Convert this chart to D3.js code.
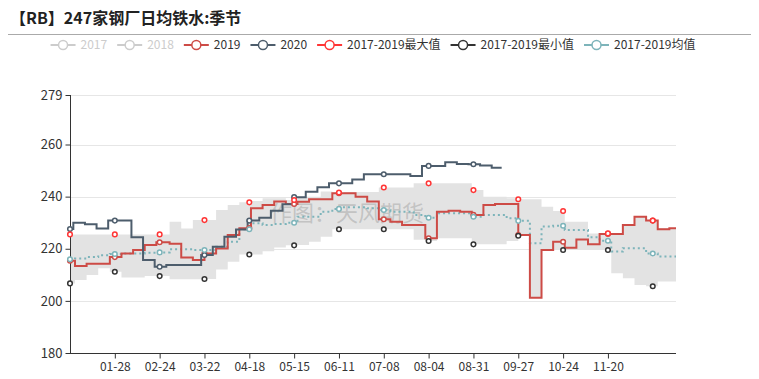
<!DOCTYPE html>
<html><head><meta charset="utf-8">
<script src="https://cdn.jsdelivr.net/npm/d3@7"></script>
<style>
body{margin:0;background:#fff;}
svg{display:block;font-family:"Noto Sans CJK SC","Microsoft YaHei",sans-serif;}
</style>
</head><body>
<svg id="chart" width="759" height="379"></svg>
<script>
// ---------------- data ----------------
const titleText = "【RB】247家钢厂日均铁水:季节";
const watermarkText = "作图：天风期货";
const legendNames = ["2017","2018","2019","2020","2017-2019最大值","2017-2019最小值","2017-2019均值"];
const legendActive = [false,false,true,true,true,true,true];
const tickLabels = ["01-28","02-24","03-22","04-18","05-15","06-11","07-08","08-04","08-31","09-27","10-24","11-20"];
const yTicks = [180,200,220,240,260,279];
const yMin = 180, yMax = 279;

// categories: every day MM-DD of the seasonal (leap) year
const fmt = d3.timeFormat("%m-%d");
const categories = d3.timeDay.range(new Date(2020,0,1), new Date(2021,0,1)).map(fmt);

// weekly report dates (first point = 01-01 carry-over)
const dates2019 = ["01-01"].concat(d3.timeFriday.range(new Date(2019,0,1), new Date(2020,0,1)).map(fmt));
const dates2020 = ["01-01"].concat(d3.timeFriday.range(new Date(2020,0,1), new Date(2020,8,12)).map(fmt));
const end2020 = "09-17";

const values2019 = [215.4,213.4,214.2,214.2,216.8,218.2,219.5,221.4,222.5,221.9,216.6,215.7,218.2,220.1,225.3,227.9,235.5,236.8,238.1,237.2,238.0,239.0,239.0,241.3,241.3,240.0,238.1,231.3,230.4,229.1,229.1,224.0,234.2,234.6,234.2,233.0,236.8,237.2,237.2,225.3,201.2,219.5,222.7,220.4,223.6,221.7,225.7,225.7,229.1,232.3,230.8,227.5,227.9];
const values2020 = [227.6,230.0,229.4,227.8,230.8,230.8,224.4,215.7,213.1,213.8,213.8,213.8,217.6,220.8,224.6,227.4,230.8,231.9,234.6,237.1,239.8,241.9,243.6,245.1,245.1,246.6,248.6,248.6,248.6,248.6,247.9,251.8,251.8,253.2,252.5,252.4,251.9,251.1];
const valuesMax = [225.5,225.5,225.5,225.5,225.5,225.5,225.5,225.5,225.5,230.4,227.8,231.0,231.0,234.9,236.8,237.8,238.3,239.4,239.4,238.7,240.0,240.0,242.0,241.6,241.8,241.8,241.8,243.5,243.5,243.5,245.1,245.1,245.1,245.1,245.1,242.5,240.0,240.0,239.4,239.0,239.0,236.1,234.5,230.4,230.4,225.9,225.9,225.9,229.1,232.3,230.8,227.9,227.9];
const valuesMin = [206.7,208.0,209.9,212.5,211.2,209.0,209.0,209.5,209.5,208.3,208.3,208.3,208.4,212.0,215.0,217.8,217.8,219.0,220.5,221.3,221.4,222.7,224.6,227.5,227.5,227.5,227.5,227.5,227.5,227.5,223.5,223.0,224.0,224.0,224.0,221.7,221.7,221.7,223.0,225.0,201.2,219.5,219.5,219.5,219.5,219.5,219.5,210.6,208.7,206.1,205.6,207.4,207.4];
const valuesMean = [216.0,216.3,216.8,217.5,218.0,218.2,218.2,218.5,218.6,219.8,219.8,219.5,219.5,220.8,222.7,227.5,229.8,229.1,229.5,230.0,232.3,232.3,234.2,235.3,235.9,235.9,235.5,234.9,234.2,234.2,233.0,231.9,233.6,233.6,233.6,232.3,233.0,233.0,231.7,230.7,222.1,228.5,228.8,227.2,227.2,224.4,223.1,218.9,220.2,220.2,218.2,217.0,217.0];

// ---------------- styles ----------------
const C = {
  y2019: "#cd4b46", y2020: "#4d5d6c", max: "#ff3535", min: "#333333", mean: "#7db4ba",
  band: "#e3e3e3", axis: "#333", grid: "#e6e6e6", text: "#333", off: "#cccccc"
};
const W = 759, H = 379;
const plot = {left: 70, right: 676, top: 95, bottom: 353};

const svg = d3.select("#chart");

const x = d3.scaleLinear().domain([0, categories.length - 1]).range([plot.left, plot.right]);
const y = d3.scaleLinear().domain([yMin, yMax]).range([plot.bottom, plot.top]);
const idx = s => categories.indexOf(s);

function toPoints(dates, vals, endDate) {
  const pts = dates.map((d, i) => ({i: idx(d), v: vals[i]}));
  const last = pts[pts.length - 1];
  pts.push({i: endDate ? idx(endDate) : categories.length - 1, v: last.v});
  return pts;
}
const p2019 = toPoints(dates2019, values2019);
const p2020 = toPoints(dates2020, values2020, end2020);
const pMax = toPoints(dates2019, valuesMax);
const pMin = toPoints(dates2019, valuesMin);
const pMean = toPoints(dates2019, valuesMean);
const bandPts = pMax.map((p, k) => ({i: p.i, hi: p.v, lo: pMin[k].v}));

function valueAt(pts, i) {
  let v = null;
  for (const p of pts) { if (p.i <= i) v = p.v; else break; }
  return v;
}

// ---------------- title ----------------
svg.append("text").attr("x", 10).attr("y", 24)
  .attr("font-size", 16).attr("font-weight", "bold").attr("fill", "#222")
  .text(titleText);
svg.append("line").attr("x1", 8).attr("x2", 751).attr("y1", 34.5).attr("y2", 34.5)
  .attr("stroke", "#aaa").attr("stroke-width", 1);

// ---------------- legend ----------------
const legendColors = [C.off, C.off, C.y2019, C.y2020, C.max, C.min, C.mean];
const lg = svg.append("g").attr("font-size", 12);
const items = [];
legendNames.forEach((n, k) => {
  const g = lg.append("g");
  const col = legendActive[k] ? legendColors[k] : C.off;
  g.append("line").attr("x1", 0).attr("x2", 25).attr("y1", 0).attr("y2", 0)
    .attr("stroke", col).attr("stroke-width", 2);
  g.append("circle").attr("cx", 12.5).attr("cy", 0).attr("r", 4.5)
    .attr("fill", "#fff").attr("stroke", col).attr("stroke-width", 1.5);
  const t = g.append("text").attr("x", 30).attr("y", 4.3)
    .attr("fill", legendActive[k] ? C.text : C.off).text(n);
  items.push({g, w: 30 + t.node().getComputedTextLength()});
});
const totalW = d3.sum(items, d => d.w) + 10 * (items.length - 1);
let lx = 373 - totalW / 2;
items.forEach(it => { it.g.attr("transform", `translate(${lx},45)`); lx += it.w + 10; });

// ---------------- grid & axes ----------------
const gridG = svg.append("g");
yTicks.forEach(t => {
  gridG.append("line").attr("x1", plot.left).attr("x2", plot.right)
    .attr("y1", Math.round(y(t)) + 0.5).attr("y2", Math.round(y(t)) + 0.5)
    .attr("stroke", C.grid).attr("stroke-width", 1);
});

// band
svg.append("path").datum(bandPts)
  .attr("d", d3.area().curve(d3.curveStepAfter).x(d => x(d.i)).y0(d => y(d.lo)).y1(d => y(d.hi)))
  .attr("fill", C.band);

// watermark
svg.append("text").attr("x", 270).attr("y", 221).attr("font-size", 22)
  .attr("fill", "#9a9a9a").attr("fill-opacity", 0.45).text(watermarkText);

// y axis
const yAxis = d3.axisLeft(y).tickValues(yTicks).tickSize(5).tickPadding(3).tickFormat(d3.format("d"));
const yg = svg.append("g").attr("transform", `translate(${plot.left + 0.5},0)`).call(yAxis);
yg.select(".domain").attr("stroke", C.axis).attr("d", `M-0,${plot.bottom}V${plot.top}`);
yg.selectAll(".tick line").attr("stroke", C.axis);
yg.selectAll(".tick text").attr("fill", C.text).attr("font-size", 13)
  .attr("font-family", "'Noto Sans CJK SC',sans-serif");

// x axis
const xAxis = d3.axisBottom(x).tickValues(tickLabels.map(idx)).tickSize(5).tickPadding(4)
  .tickFormat(i => categories[i]);
const xg = svg.append("g").attr("transform", `translate(0,${plot.bottom + 0.5})`).call(xAxis);
xg.select(".domain").attr("stroke", C.axis).attr("d", `M${plot.left},0H${plot.right}`);
xg.selectAll(".tick line").attr("stroke", C.axis);
xg.selectAll(".tick text").attr("fill", C.text).attr("font-size", 12)
  .attr("font-family", "'Noto Sans CJK SC',sans-serif");

// ---------------- lines ----------------
const stepLine = d3.line().curve(d3.curveStepAfter).x(d => x(d.i)).y(d => y(d.v));
svg.append("path").datum(pMean).attr("d", stepLine).attr("fill", "none")
  .attr("stroke", C.mean).attr("stroke-width", 2).attr("stroke-dasharray", "2,3");
svg.append("path").datum(p2019).attr("d", stepLine).attr("fill", "none")
  .attr("stroke", C.y2019).attr("stroke-width", 2);
svg.append("path").datum(p2020).attr("d", stepLine).attr("fill", "none")
  .attr("stroke", C.y2020).attr("stroke-width", 2);

// ---------------- markers ----------------
const markerIdx = d3.range(0, categories.length, 27);
function markers(pts, color, lastIdx) {
  const data = markerIdx.filter(i => i <= lastIdx).map(i => ({i, v: valueAt(pts, i)}));
  svg.append("g").selectAll("circle").data(data).join("circle")
    .attr("cx", d => x(d.i)).attr("cy", d => y(d.v)).attr("r", 2.3)
    .attr("fill", "#fff").attr("stroke", color).attr("stroke-width", 1.5);
}
markers(p2019, C.y2019, categories.length - 1);
markers(p2020, C.y2020, idx(end2020));
markers(pMax, C.max, categories.length - 1);
markers(pMin, C.min, categories.length - 1);
markers(pMean, C.mean, categories.length - 1);
</script>
</body></html>
